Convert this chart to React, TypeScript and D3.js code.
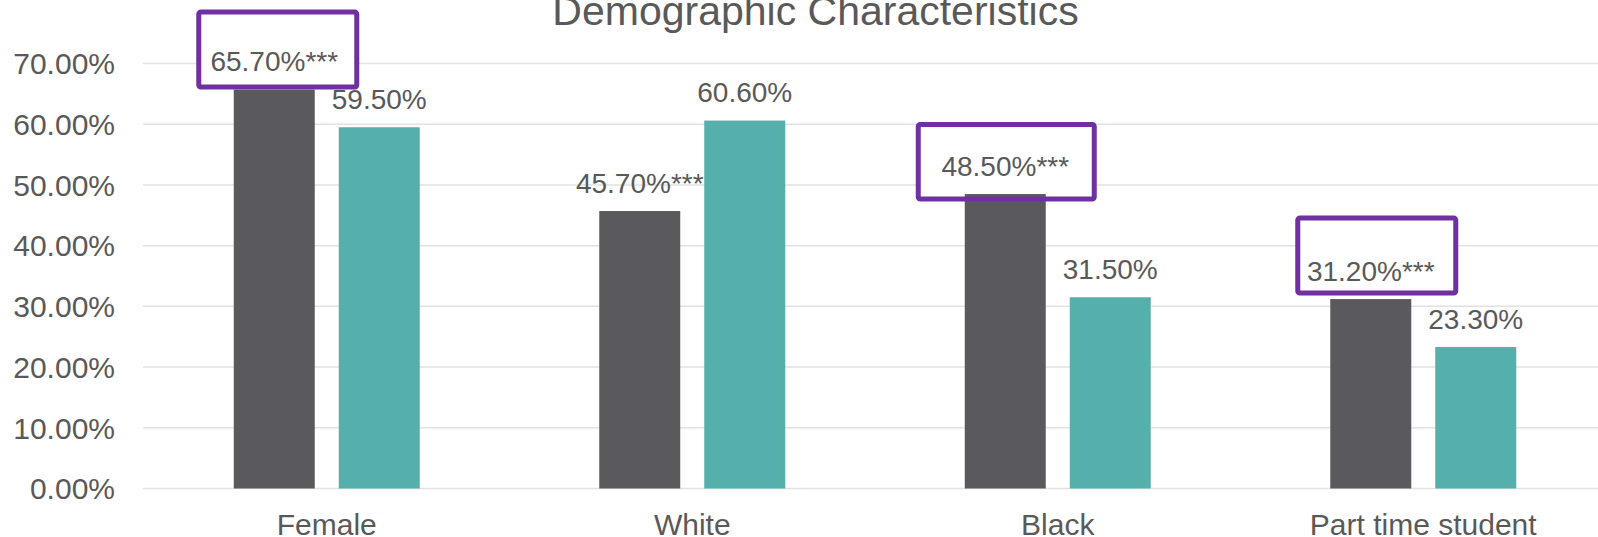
import React from "react";
import * as d3 from "d3";

const categories = ["Female", "White", "Black", "Part time student"];
const seriesNames = ["Group A", "Group B"];
const groupAValues = [65.7, 45.7, 48.5, 31.2];
const groupBValues = [59.5, 60.6, 31.5, 23.3];
const groupAMarks = ["***", "***", "***", "***"];
const groupBMarks = ["", "", "", ""];
const yTicks = [0, 10, 20, 30, 40, 50, 60, 70];
const highlighted = ["Female", "Black", "Part time student"];
const titleText = "Demographic Characteristics";

// highlight box geometry, relative to the bar centre / bar top (styling only)
const boxStyles: Record<string, { dx: number; top: number; bottom: number; w: number }> = {
  Female: { dx: 3.5, top: -77.5, bottom: -2.5, w: 158 },
  Black: { dx: 1, top: -69.5, bottom: 5, w: 176 },
  "Part time student": { dx: 6, top: -81, bottom: -6, w: 158 },
};

const W = 1598;
const H = 537;
const FONT = "'Liberation Sans', Arial, Helvetica, sans-serif";
const TEXT = "#595959";
const COLORS = ["#5A595E", "#55AFAB"];

export default function App() {
  const x0 = d3.scaleBand<string>().domain(categories).range([144, 1606]).padding(0);
  const bw = x0.bandwidth();
  const x1 = d3
    .scaleBand<string>()
    .domain(seriesNames)
    .range([0, bw])
    .paddingInner(24 / 105)
    .paddingOuter(0.855);
  const y = d3.scaleLinear().domain([0, 70]).range([488.5, 63.5]);
  const fmt = (v: number) => d3.format(".2f")(v) + "%";

  const series = [
    { name: seriesNames[0], values: groupAValues, marks: groupAMarks, color: COLORS[0] },
    { name: seriesNames[1], values: groupBValues, marks: groupBMarks, color: COLORS[1] },
  ];

  const boxes = categories
    .map((c, i) => {
      if (!highlighted.includes(c)) return null;
      const st = boxStyles[c];
      const cx = (x0(c) ?? 0) + (x1(seriesNames[0]) ?? 0) + x1.bandwidth() / 2 + st.dx;
      const top = y(groupAValues[i]);
      return {
        key: c,
        x: cx - st.w / 2,
        y: top + st.top,
        w: st.w,
        h: st.bottom - st.top,
      };
    })
    .filter(Boolean) as { key: string; x: number; y: number; w: number; h: number }[];

  return (
    <svg
      width={W}
      height={H}
      style={{ position: "absolute", left: 0, top: 0, background: "#fff" }}
      fontFamily={FONT}
    >
      <rect x={0} y={0} width={W} height={H} fill="#fff" />
      <text x={815.5} y={25} textAnchor="middle" fontSize={41} fill={TEXT}>
        {titleText}
      </text>
      {yTicks.map((t) => (
        <g key={t}>
          <line x1={143} x2={W} y1={y(t)} y2={y(t)} stroke="#E2E2E2" strokeWidth={1.5} />
          <text x={115} y={y(t)} dy="0.36em" textAnchor="end" fontSize={30} fill={TEXT}>
            {d3.format(".2f")(t) + "%"}
          </text>
        </g>
      ))}
      {boxes.map((b) => (
        <rect key={"fill" + b.key} x={b.x} y={b.y} width={b.w} height={b.h} fill="#fff" rx={2} />
      ))}
      {categories.map((c, i) => (
        <g key={c}>
          {series.map((s) => {
            const bx = (x0(c) ?? 0) + (x1(s.name) ?? 0);
            const v = s.values[i];
            return (
              <rect
                key={s.name}
                x={bx}
                y={y(v)}
                width={x1.bandwidth()}
                height={y(0) - y(v)}
                fill={s.color}
              />
            );
          })}
          <text
            x={(x0(c) ?? 0) + bw / 2}
            y={534.5}
            textAnchor="middle"
            fontSize={30}
            fill={TEXT}
          >
            {c}
          </text>
        </g>
      ))}
      {boxes.map((b) => (
        <rect
          key={"stroke" + b.key}
          x={b.x}
          y={b.y}
          width={b.w}
          height={b.h}
          fill="none"
          stroke="#7030A0"
          strokeWidth={5}
          rx={2}
        />
      ))}
      {categories.map((c, i) => (
        <g key={"lbl" + c}>
          {series.map((s) => {
            const cx = (x0(c) ?? 0) + (x1(s.name) ?? 0) + x1.bandwidth() / 2;
            const v = s.values[i];
            return (
              <text
                key={s.name}
                x={cx}
                y={y(v) - 18.4}
                textAnchor="middle"
                fontSize={28}
                fill={TEXT}
              >
                {fmt(v)}
                {s.marks[i]}
              </text>
            );
          })}
        </g>
      ))}
    </svg>
  );
}
